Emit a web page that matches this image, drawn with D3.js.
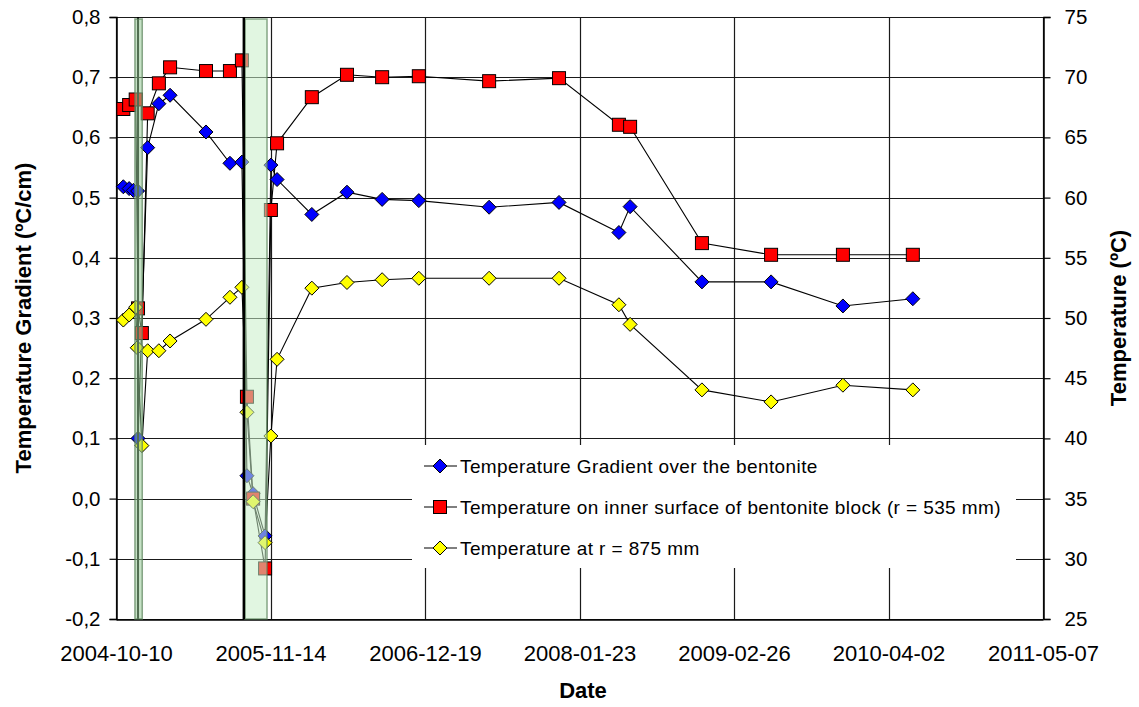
<!DOCTYPE html>
<html>
<head>
<meta charset="utf-8">
<script src="https://cdn.jsdelivr.net/npm/d3@7"></script>
<style>
  html, body { margin: 0; padding: 0; background: #fff; }
  svg { display: block; font-family: "Liberation Sans", Arial, sans-serif; }
</style>
</head>
<body>
<svg id="chart" width="1139" height="707"></svg>
<script>
// ---------------- DATA ----------------
const xTickLabels = ["2004-10-10","2005-11-14","2006-12-19","2008-01-23","2009-02-26","2010-04-02","2011-05-07"];
const leftTicks = [-0.2,-0.1,0,0.1,0.2,0.3,0.4,0.5,0.6,0.7,0.8];
const rightTicks = [25,30,35,40,45,50,55,60,65,70,75];

const commonDates = ["2005-01-29","2005-02-27","2005-05-31","2005-08-01","2005-09-01","2005-09-14","2005-09-30","2005-10-31","2005-11-15","2005-12-01","2006-03-01","2006-05-31","2006-08-30","2006-12-03","2007-06-03","2007-12-01","2008-05-04","2008-06-02","2008-12-05","2009-06-02","2009-12-05","2010-06-04"];

const gradientDates = ["2004-10-29","2004-11-13","2004-11-24","2004-12-05","2004-12-06","2004-12-31"].concat(commonDates);
const gradientValues = [0.518,0.515,0.512,0.511,0.100,0.583,0.656,0.670,0.609,0.557,0.559,0.038,0.008,-0.062,0.554,0.530,0.472,0.509,0.497,0.495,0.484,0.492,0.442,0.485,0.360,0.360,0.320,0.332];

const innerDates = ["2004-10-29","2004-11-13","2004-11-30","2004-12-06","2004-12-16","2004-12-31"].concat(commonDates);
const innerValues = [67.36,67.69,68.15,50.8,48.75,67.0,69.49,70.82,70.51,70.51,71.4,43.46,35.0,29.2,58.97,64.51,68.34,70.2,70.0,70.08,69.67,69.92,66.05,65.88,56.22,55.25,55.25,55.25];

const outerDates = ["2004-10-29","2004-11-13","2004-11-30","2004-12-04","2004-12-16","2004-12-31"].concat(commonDates);
const outerValues = [49.83,50.25,50.9,47.53,39.4,47.28,47.28,48.09,49.89,51.72,52.55,42.17,34.74,31.34,40.2,46.57,52.48,52.95,53.18,53.3,53.3,53.3,51.1,49.47,44.03,43.03,44.42,44.03];

const bandStarts = ["2004-11-28","2005-09-09"];
const bandEnds   = ["2004-12-17","2005-11-05"];
const eventLines = ["2004-12-06","2005-09-06"];

const seriesNames = ["Temperature Gradient over the bentonite",
                     "Temperature on inner surface of bentonite block (r = 535 mm)",
                     "Temperature at r = 875 mm"];

// ---------------- LAYOUT ----------------
const svg = d3.select("#chart");
const L = 116, R = 1043, T = 17, B = 619;
const parse = d3.utcParse("%Y-%m-%d");
const x = d3.scaleUtc().domain([parse(xTickLabels[0]), parse(xTickLabels[xTickLabels.length-1])]).range([L, R]);
const yL = d3.scaleLinear().domain([-0.2, 0.8]).range([B, T]);
const yR = d3.scaleLinear().domain([25, 75]).range([B, T]);
const fmtL = v => d3.format(".1f")(v).replace(".", ",").replace("−","-");

// gridlines
const grid = svg.append("g");
grid.selectAll("line.h").data(leftTicks).join("line")
  .attr("x1", L).attr("x2", R).attr("y1", d => Math.round(yL(d))+0.5).attr("y2", d => Math.round(yL(d))+0.5)
  .attr("stroke", "#1a1a1a").attr("stroke-width", 1.2);
grid.selectAll("line.v").data(xTickLabels).join("line")
  .attr("x1", d => Math.round(x(parse(d)))+0.5).attr("x2", d => Math.round(x(parse(d)))+0.5)
  .attr("y1", T).attr("y2", B)
  .attr("stroke", "#1a1a1a").attr("stroke-width", 1.2);

// axes
const axL = svg.append("g").attr("transform", `translate(${L+0.5},0)`)
  .call(d3.axisLeft(yL).tickValues(leftTicks).tickSize(7).tickPadding(9).tickFormat(fmtL));
const axR = svg.append("g").attr("transform", `translate(${R+0.5},0)`)
  .call(d3.axisRight(yR).tickValues(rightTicks).tickSize(7).tickPadding(14).tickFormat(d3.format("d")));
const axB = svg.append("g").attr("transform", `translate(0,${B+0.5})`)
  .call(d3.axisBottom(x).tickValues(xTickLabels.map(parse)).tickSize(0).tickPadding(26).tickFormat(d3.utcFormat("%Y-%m-%d")));
[axL, axR, axB].forEach(a => {
  a.select(".domain").attr("stroke", "#000").attr("stroke-width", 1.5);
  a.selectAll(".tick line").attr("stroke", "#000").attr("stroke-width", 1.2);
  a.selectAll("text").attr("font-size", 20.5).attr("fill", "#000")
    .attr("font-family", "'Liberation Sans', Arial, sans-serif");
});
axB.selectAll("text").attr("font-size", 22);

// axis titles
svg.append("text").attr("transform", `translate(31,${(T+B)/2}) rotate(-90)`)
  .attr("text-anchor", "middle").attr("font-size", 22).attr("font-weight", "bold")
  .text("Temperature Gradient (ºC/cm)");
svg.append("text").attr("transform", `translate(1126,${(T+B)/2}) rotate(-90)`)
  .attr("text-anchor", "middle").attr("font-size", 22).attr("font-weight", "bold")
  .text("Temperature (ºC)");
svg.append("text").attr("x", 583).attr("y", 698)
  .attr("text-anchor", "middle").attr("font-size", 22).attr("font-weight", "bold")
  .text("Date");

// series
const diamond = s => `M0,${-s}L${s},0L0,${s}L${-s},0Z`;
const series = [
  {dates: gradientDates, values: gradientValues, y: yL, fill: "#0000ff", shape: "diamond"},
  {dates: innerDates, values: innerValues, y: yR, fill: "#ff0000", shape: "square"},
  {dates: outerDates, values: outerValues, y: yR, fill: "#ffff00", shape: "diamond"}
];
const plot = svg.append("g");
series.forEach(s => {
  const pts = s.dates.map((d, i) => [x(parse(d)), s.y(s.values[i])]);
  plot.append("path").attr("d", d3.line()(pts)).attr("fill", "none").attr("stroke", "#000").attr("stroke-width", 1.1);
});
series.forEach(s => {
  const pts = s.dates.map((d, i) => [x(parse(d)), s.y(s.values[i])]);
  const g = plot.append("g");
  pts.forEach(p => {
    if (s.shape === "square") {
      g.append("rect").attr("x", p[0]-6.5).attr("y", p[1]-6.5).attr("width", 13).attr("height", 13)
        .attr("fill", s.fill).attr("stroke", "#000").attr("stroke-width", 1);
    } else {
      g.append("path").attr("transform", `translate(${p[0]},${p[1]})`).attr("d", diamond(7))
        .attr("fill", s.fill).attr("stroke", "#000").attr("stroke-width", 1);
    }
  });
});

// event line under first band
svg.append("line").attr("x1", x(parse(eventLines[0]))).attr("x2", x(parse(eventLines[0])))
  .attr("y1", T).attr("y2", B).attr("stroke", "#000").attr("stroke-width", 2);

// shaded bands
bandStarts.forEach((s, i) => {
  const x0 = x(parse(s)), x1 = x(parse(bandEnds[i]));
  svg.append("rect").attr("x", x0).attr("y", T+2).attr("width", x1 - x0).attr("height", B - T - 2)
    .attr("fill", i === 0 ? "rgb(150,200,150)" : "rgb(200,238,200)").attr("fill-opacity", 0.55)
    .attr("stroke", "rgb(90,130,90)").attr("stroke-opacity", 0.7).attr("stroke-width", 1.5);
});
// event line at left edge of second band
svg.append("line").attr("x1", x(parse(eventLines[1]))).attr("x2", x(parse(eventLines[1])))
  .attr("y1", T).attr("y2", B).attr("stroke", "#000").attr("stroke-width", 2.5);

// legend
const lg = svg.append("g");
lg.append("rect").attr("x", 412).attr("y", 445).attr("width", 604).attr("height", 123).attr("fill", "#fff");
const rowsY = [466, 507, 548];
series.forEach((s, i) => {
  const yy = rowsY[i];
  lg.append("line").attr("x1", 424).attr("x2", 457).attr("y1", yy).attr("y2", yy).attr("stroke", "#000").attr("stroke-width", 1.1);
  if (s.shape === "square") {
    lg.append("rect").attr("x", 440-6.5).attr("y", yy-6.5).attr("width", 13).attr("height", 13)
      .attr("fill", s.fill).attr("stroke", "#000");
  } else {
    lg.append("path").attr("transform", `translate(440,${yy})`).attr("d", diamond(7))
      .attr("fill", s.fill).attr("stroke", "#000");
  }
  lg.append("text").attr("x", 460).attr("y", yy).attr("dy", "0.35em").attr("font-size", 19)
    .attr("letter-spacing", 0.4).attr("fill", "#000").text(seriesNames[i]);
});
</script>
</body>
</html>
